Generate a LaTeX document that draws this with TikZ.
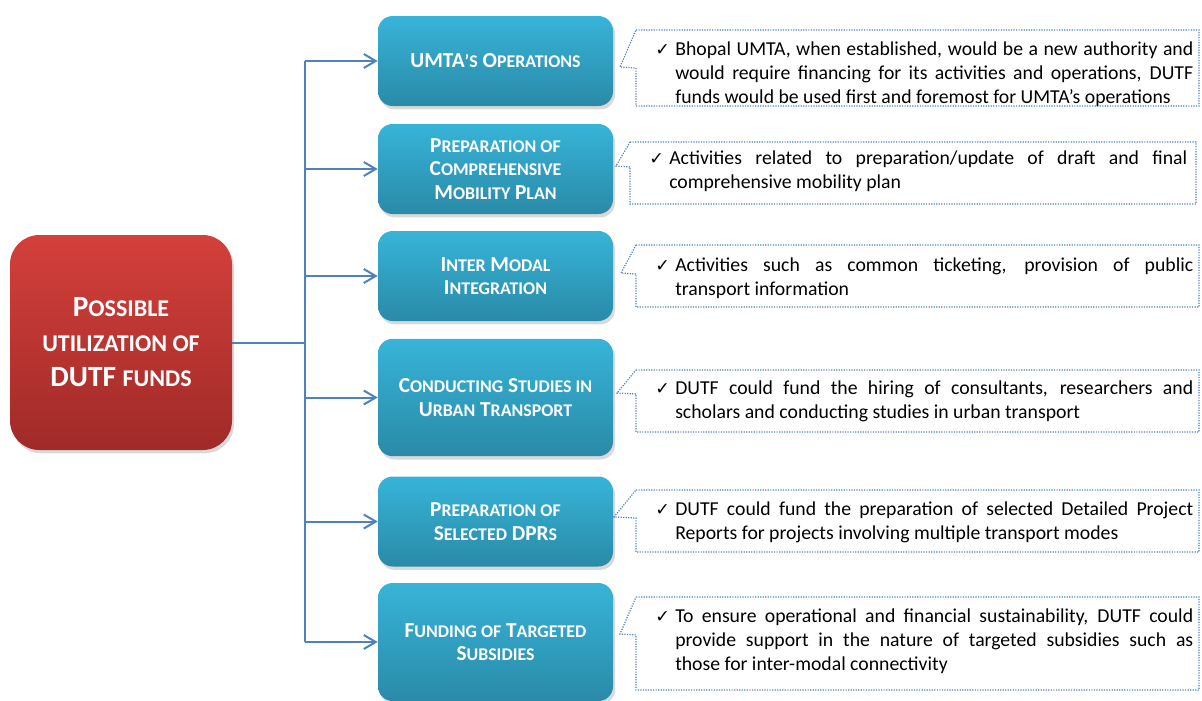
\documentclass[tikz,border=0pt]{standalone}
\usepackage{fontspec}
\setmainfont{Carlito}
\newfontfamily\symfont{DejaVu Sans}
\usetikzlibrary{arrows.meta,shadows,positioning}
\definecolor{redtop}{HTML}{D4403B}
\definecolor{redbot}{HTML}{A02A28}
\definecolor{bluetop}{HTML}{37B4D8}
\definecolor{bluebot}{HTML}{2A8AA8}
\definecolor{linkblue}{HTML}{4F81BD}
\newcommand\rsc[1]{{\fontsize{18}{20}\selectfont\MakeUppercase{#1}}}
\newcommand\bsc[1]{{\fontsize{13.4}{14}\selectfont\MakeUppercase{#1}}}

\begin{document}
\begin{tikzpicture}
[x=0.75pt,y=-0.75pt,>={Straight Barb[length=9pt,width=10.5pt]},
 sourcebox/.style={rounded corners=22pt,top color=redtop,bottom color=redbot,minimum width=166.5pt,minimum height=161.25pt,text=white,align=center,font=\bfseries\fontsize{22}{26.25}\selectfont,drop shadow={opacity=0.3,shadow xshift=1.5pt,shadow yshift=-2.5pt}},
 fundbox/.style={rounded corners=11pt,top color=bluetop,bottom color=bluebot,minimum width=176.25pt,minimum height=67.5pt,text=white,align=center,font=\bfseries\fontsize{16}{17.6}\selectfont,drop shadow={opacity=0.3,shadow xshift=1.5pt,shadow yshift=-2.5pt}},
 link/.style={draw=linkblue,line width=1.5pt},
 note/.style={draw=linkblue,densely dotted,line width=0.9pt},
 notetext/.style={anchor=base west,inner sep=0pt,text width=388.5pt,align=justify,font=\fontsize{14.8}{18}\selectfont},
 tick/.style={anchor=base west,inner sep=0pt,font=\symfont\fontsize{13}{18}\selectfont}]
\useasboundingbox (0,0) rectangle (1202,700);

% left box and the six uses
\node (src) at (121,342.5)[sourcebox] {P\rsc{ossible}\\\rsc{utilization of}\\DUTF \rsc{funds}};
\node (u1) at (495.5,61)[fundbox] {UMTA\bsc{’s} O\bsc{perations}};
\node (u2) at (495.5,169)[fundbox] {P\bsc{reparation of}\\C\bsc{omprehensive}\\M\bsc{obility} P\bsc{lan}};
\node (u3) at (495.5,276)[fundbox] {I\bsc{nter} M\bsc{odal}\\I\bsc{ntegration}};
\node (u4) at (495.5,397.5)[fundbox,minimum height=88pt] {C\bsc{onducting} S\bsc{tudies in}\\U\bsc{rban} T\bsc{ransport}};
\node (u5) at (495.5,521.5)[fundbox] {P\bsc{reparation of}\\S\bsc{elected} DPR\bsc{s}};
\node (u6) at (495.5,642)[fundbox,minimum height=88.5pt] {F\bsc{unding of} T\bsc{argeted}\\S\bsc{ubsidies}};

% connectors
\coordinate (hub) at (305,342.5);
\foreach \i in {1,...,6} \coordinate (j\i) at (hub |- u\i);
\draw[link] (src.east) -- (hub);
\draw[link] (j1) -- (j6);
\foreach \i in {1,...,6} \draw[link,->] (j\i) -- (u\i.west);

% callouts
\foreach \l/\r/\t/\b/\tx/\ty in {636/1199/30/106/620/67, 630/1196/142/204/616/166, 636/1199/245/307/621/273, 636/1199/370/432/617/393, 636/1199/490/552/614/517, 636/1199/597/690/620/634}
  \draw[note] (\l,\t) -- (\r,\t) -- (\r,\b) -- (\l,\b) -- (\l,{\ty+1}) -- (\tx,\ty) -- cycle;

\node (n1) at (675,55)[notetext] {Bhopal UMTA, when established, would be a new authority and\linebreak would require financing for its activities and operations, DUTF\linebreak funds would be used first and foremost for UMTA’s operations};
\node (n2) at (669,164)[notetext] {Activities related to preparation/update of draft and final\linebreak comprehensive mobility plan};
\node (n3) at (675,271)[notetext] {Activities such as common ticketing, provision of public\linebreak transport information};
\node (n4) at (675,394)[notetext] {DUTF could fund the hiring of consultants, researchers and\linebreak scholars and conducting studies in urban transport};
\node (n5) at (675,515)[notetext] {DUTF could fund the preparation of selected Detailed Project\linebreak Reports for projects involving multiple transport modes};
\node (n6) at (675,622)[notetext] {To ensure operational and financial sustainability, DUTF could\linebreak provide support in the nature of targeted subsidies such as\linebreak those for inter-modal connectivity};
\foreach \i in {1,...,6} \node[tick] at ([xshift=-15pt]n\i.base west) {✓};
\end{tikzpicture}
\end{document}
